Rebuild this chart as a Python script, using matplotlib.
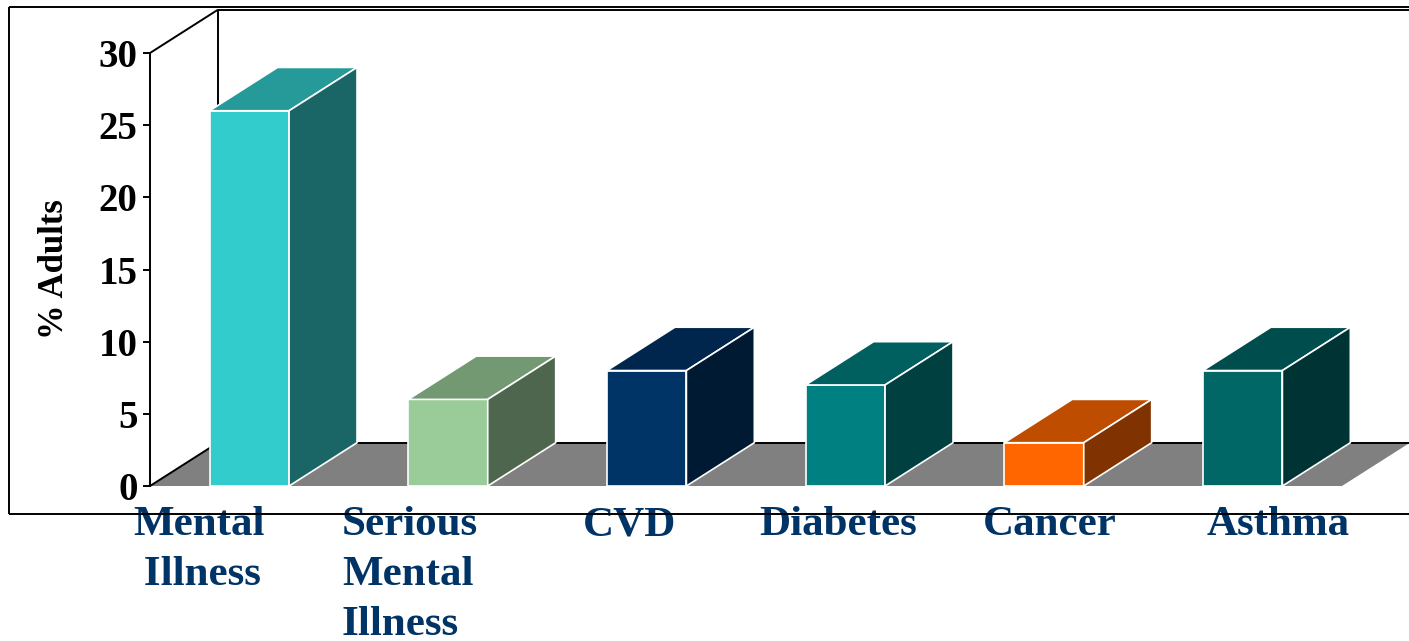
import matplotlib
matplotlib.use("Agg")
import matplotlib.pyplot as plt
from matplotlib.patches import Polygon
from matplotlib.lines import Line2D

# ---- data ----
categories = ["Mental\n Illness", "Serious\nMental\nIllness", "CVD", "Diabetes", "Cancer", "Asthma"]
values = [26, 6, 8, 7, 3, 8]
front_colors = ["#33CCCC", "#99CC99", "#003366", "#008080", "#FF6600", "#006666"]
top_colors = ["#269999", "#739973", "#00264D", "#006060", "#BF4D00", "#004D4D"]
side_colors = ["#1A6666", "#4D664D", "#001A33", "#004040", "#803300", "#003333"]
y_ticks = [0, 5, 10, 15, 20, 25, 30]
y_label = "% Adults"
# label anchor (left edge) in category units
label_x = [-0.086, 0.966, 2.18, 3.065, 4.193, 5.32]

# ---- layout ----
W, H = 1409, 641
fig = plt.figure(figsize=(W / 100, H / 100), dpi=100)
fig.patch.set_facecolor("white")
ax = fig.add_axes([150 / W, (H - 486) / H, (1342 - 150) / W, (486 - 53) / H])
N = len(categories)
ax.set_xlim(0, N)
ax.set_ylim(0, 30)
ax.patch.set_alpha(0)

DX, DY = 0.342, 3.0   # depth offset in data units
bw = 0.4
serif = "Liberation Serif"

# floor
floor = Polygon([(0, 0), (N, 0), (N + DX, DY), (DX, DY)], closed=True,
                facecolor="#808080", edgecolor="none", clip_on=False, zorder=1)
ax.add_patch(floor)
# back wall lines
kw = dict(color="black", lw=1.4, clip_on=False, zorder=1.5, solid_capstyle="butt")
ax.add_line(Line2D([DX, N + DX], [DY, DY], **kw))
ax.add_line(Line2D([0, DX], [0, DY], **kw))
ax.add_line(Line2D([DX, DX], [DY, 30 + DY], **kw))
ax.add_line(Line2D([DX, N + DX], [30 + DY, 30 + DY], **kw))
ax.add_line(Line2D([N + DX, N + DX], [DY, 30 + DY], **kw))
ax.add_line(Line2D([0, DX], [30, 30 + DY], **kw))

# bars
for i, v in enumerate(values):
    x0 = i + 0.5 - bw / 2
    x1 = i + 0.5 + bw / 2
    ekw = dict(closed=True, edgecolor="white", lw=1.2, clip_on=False, zorder=3, joinstyle="miter")
    ax.add_patch(Polygon([(x0, 0), (x1, 0), (x1, v), (x0, v)], facecolor=front_colors[i], **ekw))
    ax.add_patch(Polygon([(x0, v), (x1, v), (x1 + DX, v + DY), (x0 + DX, v + DY)],
                         facecolor=top_colors[i], **ekw))
    ax.add_patch(Polygon([(x1, 0), (x1 + DX, DY), (x1 + DX, v + DY), (x1, v)],
                         facecolor=side_colors[i], **ekw))

# axes styling
for s in ["top", "right", "bottom"]:
    ax.spines[s].set_visible(False)
ax.spines["left"].set_linewidth(1.4)
ax.spines["left"].set_zorder(2)
ax.set_xticks([])
ax.set_yticks(y_ticks)
ax.set_yticklabels([str(t) for t in y_ticks], fontfamily=serif, fontweight="bold", fontsize=28)
ax.tick_params(axis="y", direction="out", length=5, width=1.4, pad=4)
ax.set_ylabel(y_label, fontfamily=serif, fontweight="bold", fontsize=25)
ax.yaxis.set_label_coords(-0.066, 0.50)

# category labels (x from category units, placed just below the frame)
for lx, lab in zip(label_x, categories):
    px = 150 + lx * (1342 - 150) / N
    fig.text(px / W, (H - 506) / H, lab, ha="left", va="top",
             fontfamily=serif, fontweight="bold", fontsize=31, color="#003366",
             linespacing=1.42, zorder=0.5)

# outer frame (figure coords)
fl = dict(color="black", lw=1.4, transform=fig.transFigure, solid_capstyle="butt")
fig.add_artist(Line2D([9 / W, 9 / W], [(H - 7) / H, (H - 514) / H], **fl))
fig.add_artist(Line2D([9 / W, 1.0], [(H - 7) / H, (H - 7) / H], **fl))
fig.add_artist(Line2D([9 / W, 1.0], [(H - 514) / H, (H - 514) / H], zorder=1, **fl))

fig.savefig("out.png", dpi=100, facecolor="white")
